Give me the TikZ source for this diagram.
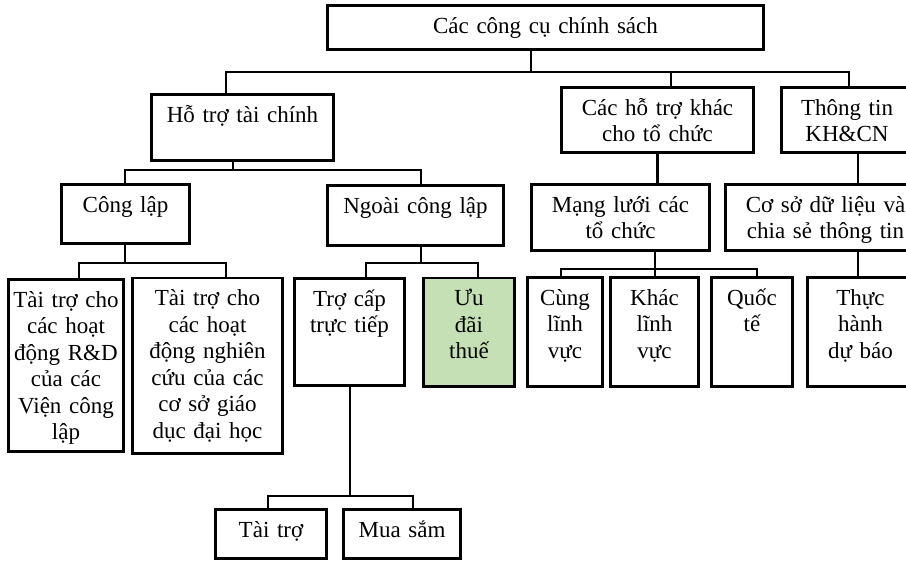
\documentclass[tikz,border=0pt]{standalone}
\usepackage{fontspec}
\setmainfont{Liberation Serif}
\usepackage{tikz}
\usetikzlibrary{positioning}
\definecolor{taxgreen}{HTML}{C5E0B4}

\begin{document}
\begin{tikzpicture}[x=1pt, y=-1pt, box/.style 2 args={draw=black, line width=2.6pt, anchor=north west, text width=#1, text height=27.7pt, text depth=#2, inner xsep=0pt, inner ysep=0pt, align=center, font=\fontsize{23}{26.5}\selectfont}, link/.style={draw=black, line width=2.6pt}]
    \useasboundingbox (0,0) rectangle (906,562);

    %Nodes
    \node[box={436.4pt}{16.7pt}](tools) at (326,4){Các công cụ chính sách};
    \node[box={182.4pt}{38.7pt}](finance) at (150,93){Hỗ trợ tài chính};
    \node[box={192.4pt}{37.7pt}](other) at (560,86){Các hỗ trợ khác\\cho tổ chức};
    \node[box={131.4pt}{37.7pt}](info) at (780,86){Thông tin\\KH\&CN};
    \node[box={128.4pt}{31.7pt}](public) at (60,183){Công lập};
    \node[box={176.4pt}{32.7pt}](private) at (326,184){Ngoài công lập};
    \node[box={178.4pt}{38.7pt}](network) at (530,183){Mạng lưới các\\tổ chức};
    \node[box={200.4pt}{38.7pt}](database) at (724,183){Cơ sở dữ liệu và\\chia sẻ thông tin};
    \node[box={115.4pt}{144.7pt}](rd_inst) at (7,278){Tài trợ cho\\các hoạt\\động R\&D\\của các\\Viện công\\lập};
    \node[box={150.4pt}{147.7pt}](rd_univ)[right=6pt of rd_inst]{Tài trợ cho\\các hoạt\\động nghiên\\cứu của các\\cơ sở giáo\\dục đại học};
    \node[box={110.4pt}{79.7pt}](subsidy) at (293,277){Trợ cấp\\trực tiếp};
    \node[box={91.4pt}{80.7pt}, fill=taxgreen](tax)[right=16pt of subsidy]{Ưu\\đãi\\thuế};
    \node[box={75.4pt}{81.7pt}](same_field) at (526,276){Cùng\\lĩnh\\vực};
    \node[box={88.4pt}{81.7pt}](other_field)[right=5pt of same_field]{Khác\\lĩnh\\vực};
    \node[box={81.4pt}{81.7pt}](intl)[right=10pt of other_field]{Quốc\\tế};
    \node[box={106.4pt}{81.7pt}](forecast)[right=12pt of intl]{Thực\\hành\\dự báo};
    \node[box={111.4pt}{21.7pt}](grant) at (214,508){Tài trợ};
    \node[box={117.4pt}{21.7pt}](procure)[right=14pt of grant]{Mua sắm};

    %Junctions
    \coordinate (j_tools) at (531,72);
    \coordinate (j_finance) at (233,170);
    \coordinate (j_public) at (125,263);
    \coordinate (j_private) at (421,263);
    \coordinate (j_network) at (655,269);
    \coordinate (j_subsidy) at (350,496);

    %Lines
    \draw[link] (tools.south -| j_tools) -- (j_tools);
    \draw[link] ([xshift=-16.5pt]finance.north) |- (j_tools) -| ([xshift=2pt]info.north);
    \draw[link] ([xshift=13.5pt]other.north) -- ([xshift=13.5pt]other.north |- j_tools);
    \draw[link] (finance.south -| j_finance) -- (j_finance);
    \draw[link] (public.north -| j_public) |- (j_finance) -| ([xshift=5.5pt]private.north);
    \draw[link] (public.south -| j_public) -- (j_public);
    \draw[link] ([xshift=13pt]rd_inst.north) |- (j_public) -| ([xshift=18.5pt]rd_univ.north);
    \draw[link] (private.south -| j_private) -- (j_private);
    \draw[link] ([xshift=16.5pt]subsidy.north) |- (j_private) -| ([xshift=9pt]tax.north);
    \draw[link] (other.south) -- (other.south |- network.north);
    \draw[link] ([xshift=11pt]info.south) -- ([xshift=11pt]info.south |- database.north);
    \draw[link] (network.south -| j_network) -- (j_network |- other_field.north);
    \draw[link] ([xshift=-4pt]same_field.north) |- (j_network) -| ([xshift=5pt]intl.north);
    \draw[link] ([xshift=32.5pt]database.south) -- ([xshift=32.5pt]database.south |- forecast.north);
    \draw[link] (subsidy.south -| j_subsidy) -- (j_subsidy);
    \draw[link] ([xshift=-3pt]grant.north) |- (j_subsidy) -| ([xshift=11pt]procure.north);

\end{tikzpicture}
\end{document}
